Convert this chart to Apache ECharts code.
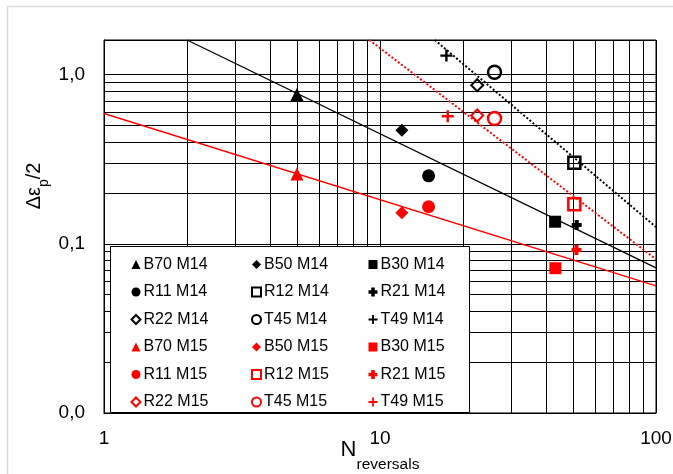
<!DOCTYPE html>
<html>
<head>
<meta charset="utf-8">
<script src="https://cdn.jsdelivr.net/npm/echarts@6/dist/echarts.min.js"></script>
<style>html,body{margin:0;padding:0;background:#fff}#c{width:673px;height:474px}</style>
</head>
<body>
<div id="c"></div>
<script>
// ---- data (N reversals, Δεp/2) ----
const B70_M14 = [[5.0, 0.762]];
const B50_M14 = [[12.0, 0.469]];
const B30_M14 = [[43.1, 0.135]];
const R11_M14 = [[15.0, 0.252]];
const R12_M14 = [[50.6, 0.301]];
const R21_M14 = [[51.6, 0.129]];
const R22_M14 = [[22.5, 0.865]];
const T45_M14 = [[26.0, 1.032]];
const T49_M14 = [[17.4, 1.294]];
const B70_M15 = [[5.0, 0.258]];
const B50_M15 = [[12.0, 0.1526]];
const B30_M15 = [[43.2, 0.0717]];
const R11_M15 = [[15.0, 0.1655]];
const R12_M15 = [[50.6, 0.171]];
const R21_M15 = [[51.5, 0.0919]];
const R22_M15 = [[22.5, 0.573]];
const T45_M15 = [[26.0, 0.55]];
const T49_M15 = [[17.6, 0.5675]];
// trend lines (endpoints)
const fitM14Solid = [[2.0, 1.6], [100, 0.072]];
const fitM15Solid = [[1, 0.589], [100, 0.0564]];
const fitM14Dotted = [[15.8, 1.6], [100, 0.1256]];
const fitM15Dotted = [[9.15, 1.6], [100, 0.081]];
// gridline / tick values
const xMinorTicks = [2,3,4,5,6,7,8,9,20,30,40,50,60,70,80,90];
const yMinorTicks = [0.02,0.03,0.04,0.05,0.06,0.07,0.08,0.09,0.2,0.3,0.4,0.5,0.6,0.7,0.8,0.9];
const legendCol1 = ['B70 M14','R11 M14','R22 M14','B70 M15','R11 M15','R22 M15'];
const legendCol2 = ['B50 M14','R12 M14','T45 M14','B50 M15','R12 M15','T45 M15'];
const legendCol3 = ['B30 M14','R21 M14','T49 M14','B30 M15','R21 M15','T49 M15'];

const FONT = 'Liberation Sans, Arial, sans-serif';
const BLK = '#000000', RED = '#ff0000';
const PLUS_THIN = 'path://M4,0H6V4H10V6H6V10H4V6H0V4H4Z';
const PLUS_BOLD = 'path://M3,0H7V3H10V7H7V10H3V7H0V3H3Z';

function sc(name, data, color, symbol, size, open, bw) {
  return {
    name, type: 'scatter', data, z: 3,
    symbol, symbolSize: size,
    itemStyle: open ? {color: 'rgba(0,0,0,0)', borderColor: color, borderWidth: bw || 2.5, opacity: 1}
                    : {color: color, opacity: 1},
    emphasis: {disabled: true}
  };
}
function fit(data, color, dotted, width) {
  return {
    type: 'line', data, z: 2, symbol: 'none', silent: true,
    lineStyle: {color, width, type: dotted ? [2, 2] : 'solid'}
  };
}

const series = [
  {
    type: 'line', data: [], silent: true,
    markLine: {
      silent: true, symbol: 'none', z: 1, animation: false,
      label: {show: false},
      lineStyle: {color: BLK, width: 1, type: 'solid'},
      emphasis: {disabled: true},
      data: xMinorTicks.map(v => ({xAxis: v})).concat(yMinorTicks.map(v => ({yAxis: v})))
    }
  },
  fit(fitM14Solid, BLK, false, 1.3),
  fit(fitM15Solid, RED, false, 1.5),
  fit(fitM14Dotted, BLK, true, 2),
  fit(fitM15Dotted, RED, true, 2),
  sc('B70 M14', B70_M14, BLK, 'triangle', 13),
  sc('B50 M14', B50_M14, BLK, 'diamond', 13),
  sc('B30 M14', B30_M14, BLK, 'rect', 12),
  sc('R11 M14', R11_M14, BLK, 'circle', 13),
  sc('R12 M14', R12_M14, BLK, 'rect', 12, true),
  sc('R21 M14', R21_M14, BLK, PLUS_BOLD, 10),
  sc('R22 M14', R22_M14, BLK, 'diamond', 12, true, 2),
  sc('T45 M14', T45_M14, BLK, 'circle', 13, true),
  sc('T49 M14', T49_M14, BLK, PLUS_THIN, 12),
  sc('B70 M15', B70_M15, RED, 'triangle', 13),
  sc('B50 M15', B50_M15, RED, 'diamond', 13),
  sc('B30 M15', B30_M15, RED, 'rect', 12),
  sc('R11 M15', R11_M15, RED, 'circle', 13),
  sc('R12 M15', R12_M15, RED, 'rect', 12, true),
  sc('R21 M15', R21_M15, RED, PLUS_BOLD, 10),
  sc('R22 M15', R22_M15, RED, 'diamond', 12, true, 2),
  sc('T45 M15', T45_M15, RED, 'circle', 13, true),
  sc('T49 M15', T49_M15, RED, PLUS_THIN, 12)
];

function legend(data, left) {
  return {
    data, orient: 'vertical', left, top: 256.5, padding: 0, z: 6,
    itemWidth: 9, itemHeight: 9, itemGap: 11.5,
    selectedMode: false,
    textStyle: {fontSize: 16, fontFamily: FONT, color: BLK, padding: [0, 0, 0, -2]}
  };
}

const chart = echarts.init(document.getElementById('c'), null, {renderer: 'canvas'});
chart.setOption({
  animation: false,
  backgroundColor: '#ffffff',
  grid: {left: 104, right: 17, top: 40, bottom: 61, show: true, borderColor: BLK, borderWidth: 1,
         containLabel: false, outerBoundsMode: 'none'},
  xAxis: {
    type: 'log', logBase: 10, min: 1, max: 100,
    axisLine: {lineStyle: {color: BLK, width: 1}},
    axisTick: {show: false},
    splitLine: {show: true, lineStyle: {color: BLK, width: 1}},
    axisLabel: {fontSize: 19, fontFamily: FONT, color: BLK, margin: 16},
    name: '{a|N}{s|reversals}',
    nameLocation: 'middle', nameGap: 26, nameMoveOverlap: false,
    nameTextStyle: {
      rich: {
        a: {fontSize: 22, fontFamily: FONT, color: BLK, verticalAlign: 'bottom', padding: [0, 0, 12, 0]},
        s: {fontSize: 15.5, fontFamily: FONT, color: BLK, verticalAlign: 'bottom'}
      }
    }
  },
  yAxis: {
    type: 'log', logBase: 10, min: 0.01, max: 1.6,
    axisLine: {lineStyle: {color: BLK, width: 1}},
    axisTick: {show: false},
    splitLine: {show: true, lineStyle: {color: BLK, width: 1}},
    axisLabel: {
      fontSize: 19, fontFamily: FONT, color: BLK, margin: 19, showMaxLabel: false,
      formatter: v => Number(v).toFixed(1).replace('.', ',')
    }
  },
  legend: [legend(legendCol1, 130.5), legend(legendCol2, 251), legend(legendCol3, 368.5)],
  graphic: [
    {type: 'rect', z: 0, silent: true, shape: {x: 7.5, y: 6.5, width: 720, height: 520},
     style: {fill: 'none', stroke: '#d9d9d9', lineWidth: 1.5}},
    {type: 'rect', z: 5, silent: true, shape: {x: 110.5, y: 246.5, width: 359, height: 166},
     style: {fill: '#ffffff', stroke: BLK, lineWidth: 1}},
    {type: 'text', z: 5, silent: true, x: 38, y: 186, rotation: Math.PI / 2,
     style: {
       text: '{a|Δε}{s|p}{a|/2}', align: 'center', verticalAlign: 'middle',
       rich: {
         a: {fontSize: 20, fontFamily: FONT, fill: BLK, verticalAlign: 'bottom', padding: [0, 0, 7, 0]},
         s: {fontSize: 14, fontFamily: FONT, fill: BLK, verticalAlign: 'bottom'}
       }
     }}
  ],
  series
});
</script>
</body>
</html>
